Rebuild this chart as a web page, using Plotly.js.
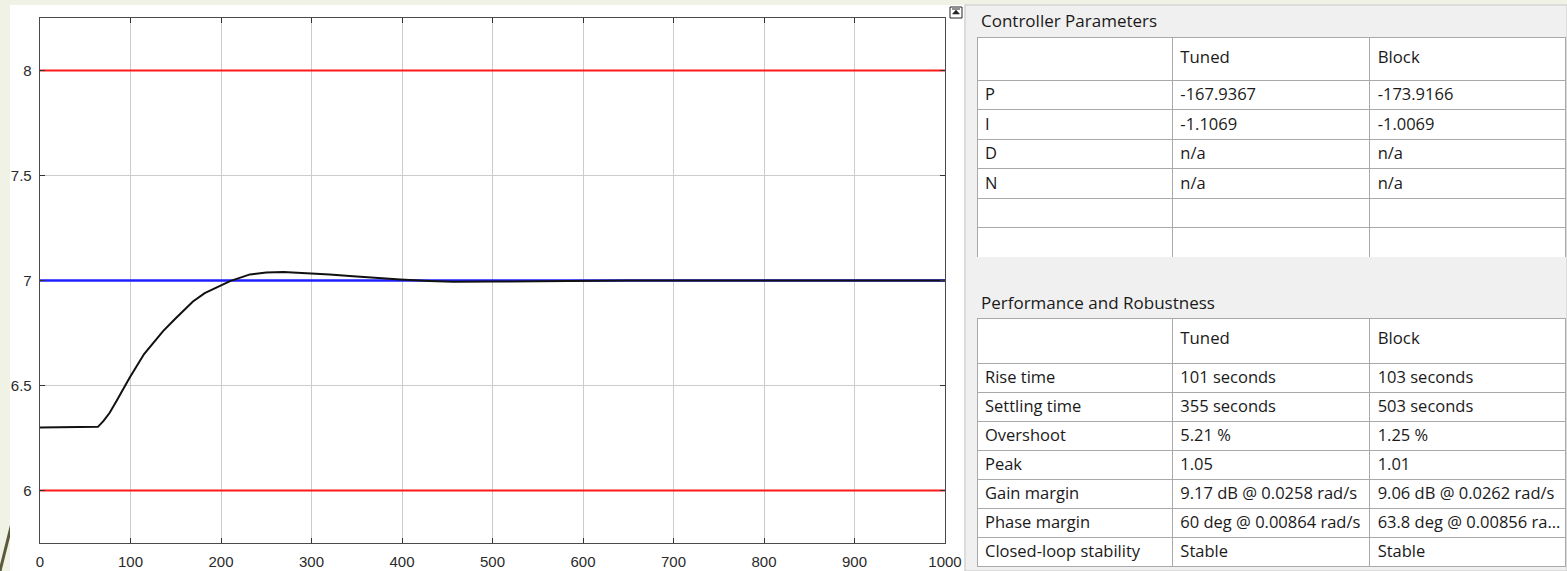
<!DOCTYPE html>
<html>
<head>
<meta charset="utf-8">
<script src="https://cdn.plot.ly/plotly-3.0.1.min.js"></script>
<style>
html,body{margin:0;padding:0;background:#f1f2e6;}
#chart{width:1567px;height:571px;}
</style>
</head>
<body>
<div id="chart"></div>
<script>
// ---- data ----
const timeSec = [0, 60, 64, 70, 77, 85, 99, 115, 136, 150, 169, 182, 195, 210, 232, 250, 269, 298, 320, 346, 370, 398, 430, 457, 501, 550, 600, 650, 700, 800, 900, 1000];
const response = [6.3, 6.3, 6.303, 6.33, 6.37, 6.43, 6.537, 6.65, 6.759, 6.82, 6.90, 6.94, 6.965, 6.997, 7.029, 7.038, 7.041, 7.036, 7.029, 7.02, 7.012, 7.005, 6.998, 6.994, 6.995, 6.997, 7.0, 7.0, 7.0, 7.0, 7.0, 7.0];
const limitX = [0, 1000];
const upperLimit = [8, 8];
const lowerLimit = [6, 6];
const setpoint = [7, 7];
const xTicks = [0, 100, 200, 300, 400, 500, 600, 700, 800, 900, 1000];
const yTicks = [6, 6.5, 7, 7.5, 8];
const yTickText = ['6', '6.5', '7', '7.5', '8'];

const tableHeader = ['', 'Tuned', 'Block'];
const paramNames = ['P', 'I', 'D', 'N', '', ''];
const paramTuned = ['-167.9367', '-1.1069', 'n/a', 'n/a', '', ''];
const paramBlock = ['-173.9166', '-1.0069', 'n/a', 'n/a', '', ''];

const perfNames = ['Rise time', 'Settling time', 'Overshoot', 'Peak', 'Gain margin', 'Phase margin', 'Closed-loop stability'];
const perfTuned = ['101 seconds', '355 seconds', '5.21 %', '1.05', '9.17 dB @ 0.0258 rad/s', '60 deg @ 0.00864 rad/s', 'Stable'];
const perfBlock = ['103 seconds', '503 seconds', '1.25 %', '1.01', '9.06 dB @ 0.0262 rad/s', '63.8 deg @ 0.00856 ra...', 'Stable'];

// ---- geometry helpers (pixel -> paper) ----
const W = 1567, H = 571;
const px = v => v / W;
const py = v => 1 - v / H;

const FAMILY = 'Open Sans, Noto Sans, sans-serif';
const tableFont = {family: FAMILY, size: 16.5, color: '#1a1a1a'};
const titleFont = {family: FAMILY, size: 17, color: '#1a1a1a'};
const headerFont = {family: FAMILY, size: 24, color: '#1a1a1a'};
const tblLine = {color: '#a9a9a9', width: 1};
const NB = '\u00a0';
const noWrap = arr => arr.map(s => s.replace(/ /g, NB));
// header text lowered inside its taller row via a subscript shift
const hdr = arr => arr.map(s => s ? '<sub>' + s + '</sub>' : '');

const traces = [
  {x: limitX, y: upperLimit, type: 'scatter', mode: 'lines', line: {color: '#ff1a1a', width: 2}, hoverinfo: 'skip', showlegend: false},
  {x: limitX, y: lowerLimit, type: 'scatter', mode: 'lines', line: {color: '#ff1a1a', width: 2}, hoverinfo: 'skip', showlegend: false},
  {x: limitX, y: setpoint, type: 'scatter', mode: 'lines', line: {color: '#1f1fff', width: 2.5}, hoverinfo: 'skip', showlegend: false},
  {x: timeSec, y: response, type: 'scatter', mode: 'lines', line: {color: '#111111', width: 2}, hoverinfo: 'skip', showlegend: false},
  {
    type: 'table',
    domain: {x: [px(977), px(1566)], y: [py(258), py(37)]},
    columnwidth: [195, 197, 196],
    header: {values: hdr(tableHeader), align: 'left', height: 43, fill: {color: '#ffffff'}, line: tblLine, font: headerFont},
    cells: {values: [noWrap(paramNames), noWrap(paramTuned), noWrap(paramBlock)], align: 'left', height: 29.5, fill: {color: '#ffffff'}, line: tblLine, font: tableFont}
  },
  {
    type: 'table',
    domain: {x: [px(977), px(1566)], y: [py(568), py(318)]},
    columnwidth: [195, 197, 196],
    header: {values: hdr(tableHeader), align: 'left', height: 45, fill: {color: '#ffffff'}, line: tblLine, font: headerFont},
    cells: {values: [noWrap(perfNames), noWrap(perfTuned), noWrap(perfBlock)], align: 'left', height: 29, fill: {color: '#ffffff'}, line: tblLine, font: tableFont}
  }
];

const tickFont = {family: 'Liberation Sans, Arial, sans-serif', size: 15, color: '#2a2a2a'};

const layout = {
  width: W, height: H,
  margin: {l: 0, r: 0, t: 0, b: 0},
  paper_bgcolor: '#f1f2e6',
  plot_bgcolor: '#ffffff',
  showlegend: false,
  xaxis: {
    domain: [px(40), px(945)],
    range: [0, 1000],
    tickvals: xTicks,
    ticks: 'inside', ticklen: 5, tickcolor: '#333333',
    showline: true, linecolor: '#4a4a4a', linewidth: 1.3, mirror: 'ticks',
    showgrid: true, gridcolor: '#cccccc', gridwidth: 1,
    zeroline: false, tickfont: tickFont, ticklabelstandoff: 5, fixedrange: true
  },
  yaxis: {
    domain: [py(543), py(18)],
    range: [5.75, 8.25],
    tickvals: yTicks, ticktext: yTickText,
    ticks: 'inside', ticklen: 5, tickcolor: '#333333',
    showline: true, linecolor: '#4a4a4a', linewidth: 1.3, mirror: 'ticks',
    showgrid: true, gridcolor: '#cccccc', gridwidth: 1,
    zeroline: false, tickfont: tickFont, ticklabelstandoff: 4, fixedrange: true
  },
  shapes: [
    // decorative slide stroke
    {type: 'line', xref: 'paper', yref: 'paper', x0: px(0), y0: py(571), x1: px(14), y1: py(515), line: {color: '#5a5a3a', width: 3}, layer: 'below'},
    // white figure area
    {type: 'rect', xref: 'paper', yref: 'paper', x0: px(10), y0: py(571), x1: px(964), y1: py(5), fillcolor: '#ffffff', line: {width: 0}, layer: 'below'},
    // gray tuner panel
    {type: 'rect', xref: 'paper', yref: 'paper', x0: px(965), y0: py(571), x1: px(1567), y1: py(5), fillcolor: '#f0f0f0', line: {color: '#c8c8c8', width: 1}, layer: 'below'},
    // small undock icon
    {type: 'rect', xref: 'paper', yref: 'paper', x0: px(950), y0: py(18), x1: px(962), y1: py(7), fillcolor: '#ffffff', line: {color: '#222222', width: 1}, layer: 'above'},
    {type: 'path', xref: 'paper', yref: 'paper', path: 'M ' + px(952.5) + ' ' + py(14) + ' L ' + px(956) + ' ' + py(10) + ' L ' + px(959.5) + ' ' + py(14) + ' Z', fillcolor: '#222222', line: {color: '#222222', width: 0.5}, layer: 'above'},
    {type: 'line', xref: 'paper', yref: 'paper', x0: px(952), y0: py(9), x1: px(960), y1: py(9), line: {color: '#222222', width: 1}, layer: 'above'}
  ],
  annotations: [
    {text: 'Controller Parameters', xref: 'paper', yref: 'paper', x: px(979), y: py(20), xanchor: 'left', yanchor: 'middle', showarrow: false, font: titleFont},
    {text: 'Performance and Robustness', xref: 'paper', yref: 'paper', x: px(979), y: py(302), xanchor: 'left', yanchor: 'middle', showarrow: false, font: titleFont}
  ]
};

Plotly.newPlot('chart', traces, layout, {displayModeBar: false, staticPlot: true});
</script>
</body>
</html>
